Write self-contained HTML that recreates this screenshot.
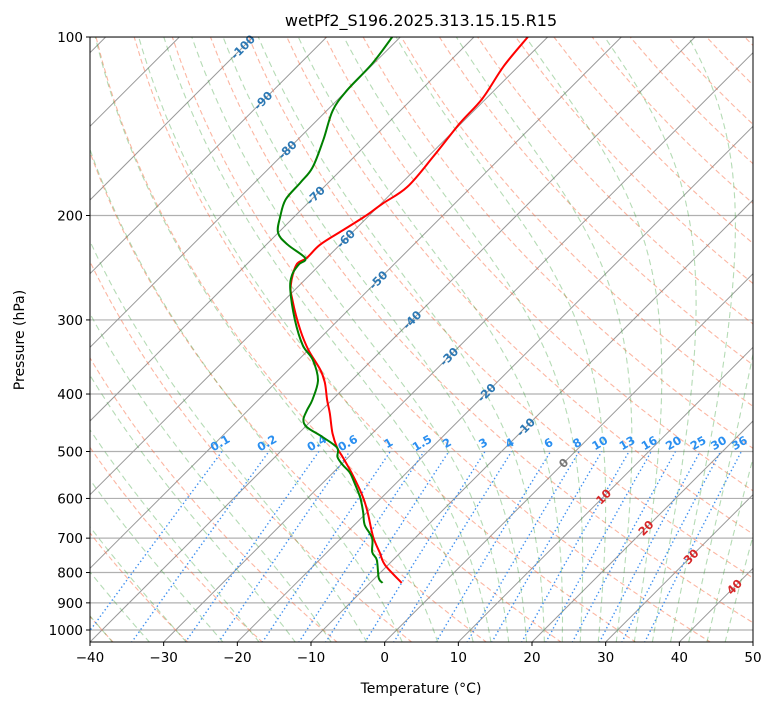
<!DOCTYPE html>
<html><head><meta charset="utf-8"><style>
body{margin:0;background:#fff;}
svg{display:block;font-family:"DejaVu Sans","Liberation Sans",sans-serif;}
</style></head><body>
<svg id="chart" width="775" height="708" viewBox="0 0 775 708">
<defs><clipPath id="pc"><rect x="90" y="37" width="663" height="605"/></clipPath></defs>
<rect x="0" y="0" width="775" height="708" fill="#fff"/>
<g id="bg" clip-path="url(#pc)"></g>
<g id="lbl"></g>
<g id="data" clip-path="url(#pc)"></g>
<rect x="90" y="37" width="663" height="605" fill="none" stroke="#000" stroke-width="1"/>
<g id="axes"></g>
<text x="421" y="26" text-anchor="middle" font-size="16">wetPf2_S196.2025.313.15.15.R15</text>
<text x="421" y="693" text-anchor="middle" font-size="14">Temperature (°C)</text>
<text x="24" y="340" text-anchor="middle" font-size="14" transform="rotate(-90 24 340)">Pressure (hPa)</text>
</svg>
<script>
// ---- data ----
const tempP = [833,777,742,697,635,597,548,511,493,466,431,409,383,364,337,312,278,262,242,236,224,212,200,191,179,159,140,127,112,100];
const tempT = [-5.7,-10.4,-12.7,-15.8,-19.8,-22.6,-27.0,-30.8,-32.8,-35.4,-38.5,-40.7,-43.3,-45.7,-50.0,-53.8,-58.9,-61.2,-63.2,-62.7,-62.7,-61.6,-60.4,-59.8,-58.7,-59.3,-60.2,-60.5,-62.0,-62.7];
const dewP = [833,817,762,739,700,665,632,597,558,542,527,511,493,473,455,442,426,409,379,350,331,300,267,252,242,236,224,214,201,188,176,166,149,133,123,111,100];
const dewT = [-8.3,-9.5,-12.2,-13.9,-15.8,-18.6,-20.6,-23.0,-26.3,-27.8,-29.7,-31.5,-32.8,-36.2,-39.7,-41.2,-42.0,-42.7,-44.6,-48.1,-51.4,-55.9,-60.6,-62.4,-62.9,-62.9,-67.1,-70.0,-71.9,-73.5,-73.8,-74.2,-76.5,-79.2,-80.0,-80.2,-81.1];
const pressureTicks = [100,200,300,400,500,600,700,800,900,1000];
const tempTicks = [-40,-30,-20,-10,0,10,20,30,40,50];
const isoLabelT = [-100,-90,-80,-70,-60,-50,-40,-30,-20,-10,0,10,20,30,40];
const isoLabelP = [104,128,155,185,219,257,300,346,398,455,523,596,673,752,846];
const mixRatios = [0.1,0.2,0.4,0.6,1,1.5,2,3,4,6,8,10,13,16,20,25,30,36];
const dryThetas = []; for(let t=-50;t<=260;t+=10) dryThetas.push(t);
const moistT0 = [-40,-35,-30,-25,-20,-15,-10,-5,0,5,10,12.5,15,17.5,20,22.5,25,27.5,30,32.5,35,37.5,40,42.5,45];

// ---- axes ----
const L=90,R=753,T=37,B=642,PX=663/90;
function yP(p){return T+593*(Math.log10(p)-2);}
function xT(t,p){return L+(t+40)*PX+(B-yP(p));}
const NS="http://www.w3.org/2000/svg";
function mk(tag,attrs,parent){const e=document.createElementNS(NS,tag);for(const k in attrs)e.setAttribute(k,attrs[k]);parent.appendChild(e);return e;}
const bg=document.getElementById('bg'),lbl=document.getElementById('lbl'),dat=document.getElementById('data'),ax=document.getElementById('axes');
function pathFrom(ps,ts){let d='';for(let i=0;i<ps.length;i++){d+=(i?'L':'M')+xT(ts[i],ps[i]).toFixed(1)+' '+yP(ps[i]).toFixed(1);}return d;}
function smoothPath(ps,ts){
  const pts=ps.map((p,i)=>[xT(ts[i],p),yP(p)]);
  let d='M'+pts[0][0].toFixed(1)+' '+pts[0][1].toFixed(1);
  for(let i=0;i<pts.length-1;i++){
    const p0=pts[Math.max(0,i-1)],p1=pts[i],p2=pts[i+1],p3=pts[Math.min(pts.length-1,i+2)];
    const c1=[p1[0]+(p2[0]-p0[0])/6,p1[1]+(p2[1]-p0[1])/6];
    const c2=[p2[0]-(p3[0]-p1[0])/6,p2[1]-(p3[1]-p1[1])/6];
    d+='C'+c1[0].toFixed(1)+' '+c1[1].toFixed(1)+' '+c2[0].toFixed(1)+' '+c2[1].toFixed(1)+' '+p2[0].toFixed(1)+' '+p2[1].toFixed(1);
  }
  return d;
}

// isobars
pressureTicks.forEach(p=>{
  const l=mk('line',{x1:L,x2:R,y1:yP(p),y2:yP(p),stroke:'#b0b0b0','stroke-width':1.2},bg);
  
  
});
// isotherms
for(let t=-160;t<=50;t+=10){
  const l=mk('line',{x1:xT(t,1050),y1:yP(1050),x2:xT(t,100),y2:yP(100),stroke:'#999','stroke-width':1},bg);
  
  
}
// dry adiabats
const pl=[];for(let p=1050;p>=100;p-=10)pl.push(p);
dryThetas.forEach(th=>{
  const ts=pl.map(p=>(th+273.15)*Math.pow(p/1000,0.2857)-273.15);
  const e=mk('path',{d:pathFrom(pl,ts),fill:'none',stroke:'rgba(250,110,70,0.5)','stroke-width':1.1,'stroke-dasharray':'5,3'},bg);
  
  
});
// moist adiabats
function es(Tk){return 6.112*Math.exp(17.67*(Tk-273.15)/(Tk-29.65));}
function dTdp(Tk,p){const e=es(Tk);const rs=0.622*e/(p-e);return (287.04*Tk+2.501e6*rs)/(1005.7+2.501e6*2.501e6*rs*0.622/(287.04*Tk*Tk))/p;}
moistT0.forEach(t0=>{
  const ps=[],ts=[];
  let Tk=t0+273.15,p=1000;
  let Td=Tk,pd=1000;while(pd<1050){const h=5;Td+=dTdp(Td,pd)*h;pd+=h;}
  ps.push(1050);ts.push(Td-273.15);
  ps.push(1000);ts.push(Tk-273.15);
  while(p>100){const h=-5;const k1=dTdp(Tk,p);const k2=dTdp(Tk+k1*h,p+h);Tk+=0.5*(k1+k2)*h;p+=h;ps.push(p);ts.push(Tk-273.15);}
  const e=mk('path',{d:pathFrom(ps,ts),fill:'none',stroke:'rgba(60,160,60,0.38)','stroke-width':1.1,'stroke-dasharray':'6,4'},bg);
  
  
});
// mixing ratio lines
function tdw(w,p){const e=w*p/(622+w);const g=Math.log(e/6.112);return 243.5*g/(17.67-g);}
const pm=[];for(let p=1050;p>=500;p-=10)pm.push(p);
mixRatios.forEach(w=>{
  const e=mk('path',{d:pathFrom(pm,pm.map(p=>tdw(w,p))),fill:'none',stroke:'#3d8ff0','stroke-width':1.4,'stroke-dasharray':'1.4,2.6'},bg);
  
  
  const x=xT(tdw(w,500),500),y=yP(500)-5;
  const t=mk('text',{x:x,y:y,'text-anchor':'middle','font-size':11.5,'font-weight':'bold',fill:'#2a8ff0',transform:`rotate(-30 ${x} ${y})`},lbl);
  t.textContent=String(w);
  
  
});
// isotherm labels
isoLabelT.forEach((t,i)=>{
  const p=isoLabelP[i];const x=xT(t,p),y=yP(p)+4;
  const c=t<0?'#2c78b4':(t===0?'#777':'#d62728');
  const e=mk('text',{x:x,y:y,'text-anchor':'middle','font-size':11.5,'font-weight':'bold',fill:c,transform:`rotate(-45 ${x} ${y-4})`},lbl);
  e.textContent=String(t);
  
  
});
// profiles
const tp=mk('path',{d:smoothPath(tempP,tempT),fill:'none',stroke:'#f00','stroke-width':2},dat);


const dp=mk('path',{d:smoothPath(dewP,dewT),fill:'none',stroke:'#008000','stroke-width':2},dat);


// ticks
pressureTicks.forEach(p=>{
  const y=yP(p);
  const tk=mk('line',{x1:L-4,x2:L,y1:y,y2:y,stroke:'#000'},ax);
  
  
  const t=mk('text',{x:L-7,y:y+5,'text-anchor':'end','font-size':13.5},ax);
  t.textContent=String(p);
  
  
});
tempTicks.forEach(v=>{
  const x=L+(v+40)*PX;
  const tk=mk('line',{x1:x,x2:x,y1:B,y2:B+4,stroke:'#000'},ax);
  
  
  const t=mk('text',{x:x,y:B+20,'text-anchor':'middle','font-size':13.5},ax);
  t.textContent=(v<0?'\u2212'+(-v):String(v));
  
  
});
</script>
</body></html>
